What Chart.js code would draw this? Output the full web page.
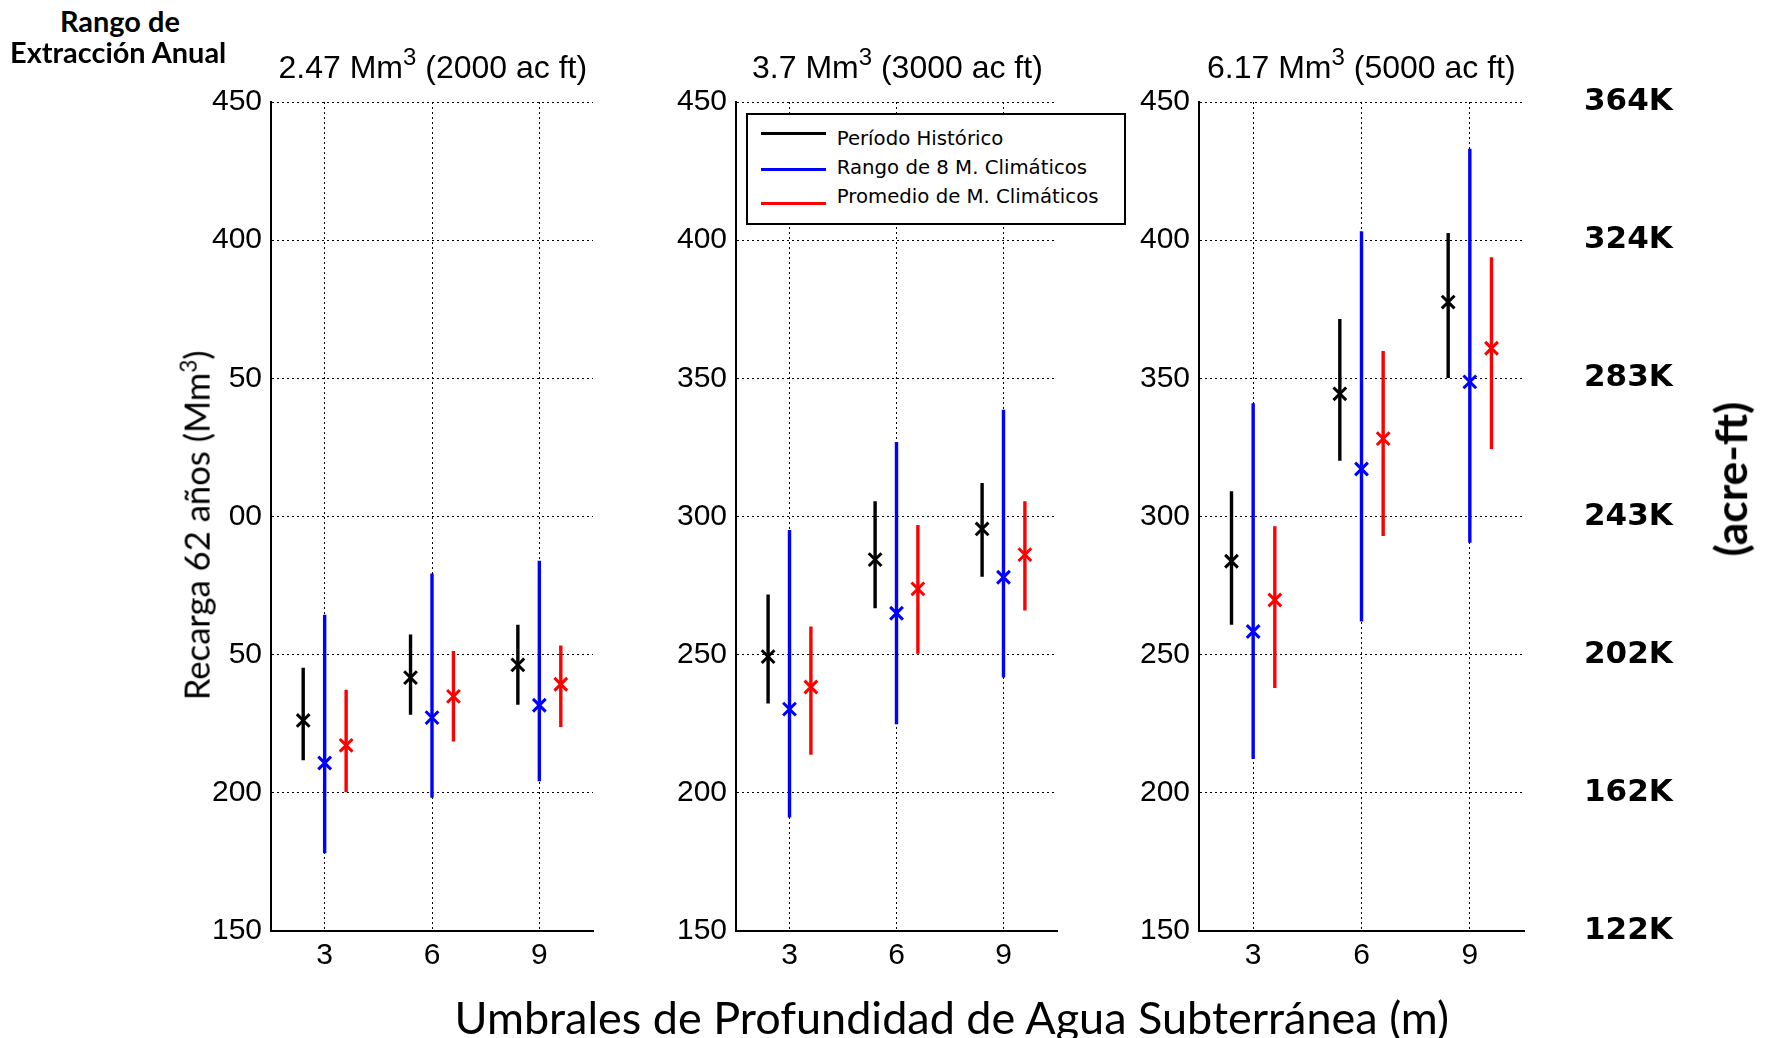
<!DOCTYPE html>
<html><head><meta charset="utf-8">
<script src="https://cdn.jsdelivr.net/npm/chart.js@4/dist/chart.umd.min.js"></script>
<style>
html,body{margin:0;padding:0;background:#fff;}
#wrap{position:relative;width:1768px;height:1038px;overflow:hidden;background:#fff;}
#wrap canvas{position:absolute;}
.t{position:absolute;white-space:nowrap;color:#000;line-height:1;}
.legline{position:absolute;height:3px;}
</style></head><body><div id="wrap"></div>
<script>
// ---------------- data ----------------
const depths = [3, 6, 9];
const titleVolumes = ['2.47', '3.7', '6.17'];
const titleAcreFt = ['2000', '3000', '5000'];
const yTicks = [150, 200, 250, 300, 350, 400, 450];
const yTickLabelsFirst = ['150', '200', '50', '00', '50', '400', '450'];
const yTickLabels = ['150', '200', '250', '300', '350', '400', '450'];
const acreFtLabels = ['122K', '162K', '202K', '243K', '283K', '324K', '364K'];
const seriesNames = ['Período Histórico', 'Rango de 8 M. Climáticos', 'Promedio de M. Climáticos'];

// per panel (2000, 3000, 5000 ac ft) -> values at depths 3, 6, 9
const histMid  = [[226.2, 241.7, 246.3], [249.3, 284.4, 295.5], [283.8, 344.4, 377.6]];
const histLow  = [[211.8, 228.3, 231.9], [232.3, 266.8, 278.2], [260.8, 320.2, 350.1]];
const histHigh = [[245.3, 257.3, 260.8], [271.8, 305.5, 312.1], [309.1, 371.5, 402.6]];
const rangeMid  = [[210.8, 227.2, 231.7], [230.3, 265.0, 278.0], [258.4, 317.2, 348.7]];
const rangeLow  = [[178.1, 198.2, 204.2], [191.1, 224.8, 241.7], [212.2, 262.0, 290.5]];
const rangeHigh = [[264.4, 279.4, 284.0], [295.1, 327.0, 338.6], [341.0, 403.2, 433.1]];
const avgMid  = [[217.2, 234.9, 239.3], [238.3, 273.8, 286.2], [269.8, 328.2, 360.9]];
const avgLow  = [[200.2, 218.6, 223.8], [213.8, 250.3, 266.0], [237.9, 292.9, 324.4]];
const avgHigh = [[237.3, 251.3, 253.3], [260.2, 296.9, 305.5], [296.5, 359.9, 393.8]];

// ---------------- layout ----------------
const wrap = document.getElementById('wrap');
const AREA = [[271, 595], [736, 1059], [1199, 1524]];
const TOP = 102, BOTTOM = 931, YW = 100, XH = 60, PADT = 30, PADR = 10, Y2W = 200;
const tickFont = {family: '"Liberation Sans", Arial, sans-serif', size: 30};
const series = [
  {mid: histMid, low: histLow, high: histHigh, color: '#000000', off: -0.6},
  {mid: rangeMid, low: rangeLow, high: rangeHigh, color: '#0000ff', off: 0},
  {mid: avgMid, low: avgLow, high: avgHigh, color: '#ff0000', off: 0.6}
];

for (let p = 0; p < 3; p++) {
  const cv = document.createElement('canvas');
  const w = YW + (AREA[p][1] - AREA[p][0]) + (p === 2 ? Y2W : PADR);
  const h = PADT + (BOTTOM - TOP) + XH;
  cv.width = w; cv.height = h;
  cv.style.left = (AREA[p][0] - YW) + 'px';
  cv.style.top = (TOP - PADT) + 'px';
  cv.style.width = w + 'px'; cv.style.height = h + 'px';
  wrap.appendChild(cv);

  const datasets = [];
  series.forEach(s => {
    const bars = [];
    depths.forEach((d, i) => {
      bars.push({x: d + s.off, y: s.low[p][i]});
      bars.push({x: d + s.off, y: s.high[p][i]});
      bars.push({x: d + s.off, y: null});
    });
    datasets.push({data: bars, showLine: true, spanGaps: false, borderColor: s.color,
      borderWidth: 3.4, pointRadius: 0, fill: false, borderCapStyle: 'butt'});
    datasets.push({data: depths.map((d, i) => ({x: d + s.off, y: s.mid[p][i]})),
      showLine: false, pointStyle: 'crossRot', pointRadius: 9, borderWidth: 3,
      borderColor: s.color, backgroundColor: s.color});
  });

  const labels = p === 0 ? yTickLabelsFirst : yTickLabels;
  const scales = {
    x: {type: 'linear', min: 1.5, max: 10.5,
      afterBuildTicks: sc => { sc.ticks = depths.map(v => ({value: v})); },
      afterFit: sc => { sc.height = XH; },
      ticks: {font: tickFont, color: '#000', padding: 7, maxRotation: 0, autoSkip: false},
      grid: {color: '#000', lineWidth: 1, drawTicks: false},
      border: {display: true, color: '#000', width: 2, dash: [2, 3]}},
    y: {type: 'linear', min: 150, max: 450,
      afterBuildTicks: sc => { sc.ticks = yTicks.map(v => ({value: v})); },
      afterFit: sc => { sc.width = YW; },
      ticks: {font: tickFont, color: '#000', padding: 9,
        callback: v => labels[yTicks.indexOf(v)]},
      grid: {color: '#000', lineWidth: 1, drawTicks: false},
      border: {display: true, color: '#000', width: 2, dash: [2, 3]}}
  };
  if (p === 2) {
    scales.y2 = {type: 'linear', position: 'right', min: 150, max: 450, display: true,
      afterBuildTicks: sc => { sc.ticks = yTicks.map(v => ({value: v})); },
      afterFit: sc => { sc.width = Y2W; },
      ticks: {font: {family: '"DejaVu Sans", Verdana, sans-serif', size: 31, weight: 'bold'},
        color: '#000', padding: 0, callback: v => acreFtLabels[yTicks.indexOf(v)]},
      grid: {display: true, drawOnChartArea: false, drawTicks: true, tickLength: 60,
        color: 'rgba(0,0,0,0)'},
      border: {display: false}};
  }

  new Chart(cv, {
    type: 'scatter',
    data: {datasets},
    options: {
      responsive: false, animation: false, devicePixelRatio: 1, events: [],
      layout: {padding: {top: PADT, right: p === 2 ? 0 : PADR, left: 0, bottom: 0}},
      plugins: {legend: {display: false}, tooltip: {enabled: false}},
      scales
    }
  });

  // panel title
  const cx = (AREA[p][0] + AREA[p][1]) / 2;
  const tt = document.createElement('div');
  tt.className = 't';
  tt.style.fontFamily = '"Liberation Sans", Arial, sans-serif';
  tt.style.fontSize = '32px';
  tt.innerHTML = titleVolumes[p] + ' Mm<span style="font-size:24px;position:relative;top:-13px">3</span> (' + titleAcreFt[p] + ' ac ft)';
  wrap.appendChild(tt);
  tt.style.left = (cx - tt.offsetWidth / 2) + 'px';
  tt.style.top = (78 - 0.8465 * 32) + 'px';
}

// ---------------- texts ----------------
function addText(html, font, size, weight) {
  const d = document.createElement('div');
  d.className = 't';
  d.style.fontFamily = font; d.style.fontSize = size + 'px';
  if (weight) d.style.fontWeight = weight;
  d.innerHTML = html;
  wrap.appendChild(d);
  return d;
}
function fit(d, target) {
  const fs = parseFloat(d.style.fontSize);
  d.style.fontSize = (fs * target / d.offsetWidth) + 'px';
}
function center(d, cx, cy, rot) {
  d.style.left = (cx - d.offsetWidth / 2) + 'px';
  d.style.top = (cy - d.offsetHeight / 2) + 'px';
  if (rot) { d.style.transformOrigin = '50% 50%'; d.style.transform = 'rotate(' + rot + 'deg)'; }
}

const r1 = addText('Rango de', 'Lato, sans-serif', 28, 'bold');
const r2 = addText('Extracción Anual', 'Lato, sans-serif', 28, 'bold');
fit(r2, 216);
r1.style.fontSize = r2.style.fontSize;
center(r1, 120, 21);
center(r2, 118, 52);

const yt = addText('Recarga 62 años (Mm<sup style="font-size:0.65em;line-height:0">3</sup>)', 'Lato, sans-serif', 32);
fit(yt, 349.6);
center(yt, 196.5, 525.6, -90);

const xt = addText('Umbrales de Profundidad de Agua Subterránea (m)', 'Lato, sans-serif', 42);
fit(xt, 995);
center(xt, 951.5, 1017);

const af = addText('(acre-ft)', 'Lato, sans-serif', 36, 'bold');
fit(af, 155);
center(af, 1730, 479, -90);

// legend
const lg = document.createElement('div');
Object.assign(lg.style, {position: 'absolute', left: '746px', top: '113px', width: '380px', height: '112px',
  border: '2px solid #000', background: '#fff', boxSizing: 'border-box'});
wrap.appendChild(lg);
const legLineY = [133.3, 169.4, 203.2];
const legTextY = [138.8, 167.7, 196.5];
const legTexts = seriesNames.map(n => addText(n, '"DejaVu Sans", Verdana, sans-serif', 19));
fit(legTexts[2], 261.7);
legTexts.forEach((d, i) => {
  d.style.fontSize = legTexts[2].style.fontSize;
  d.style.left = '836.7px';
  d.style.top = (legTextY[i] - d.offsetHeight / 2) + 'px';
  const ln = document.createElement('div');
  ln.className = 'legline';
  Object.assign(ln.style, {left: '761px', width: '65px', top: (legLineY[i] - 1.5) + 'px', background: series[i].color});
  wrap.appendChild(ln);
});
</script>
</body></html>
